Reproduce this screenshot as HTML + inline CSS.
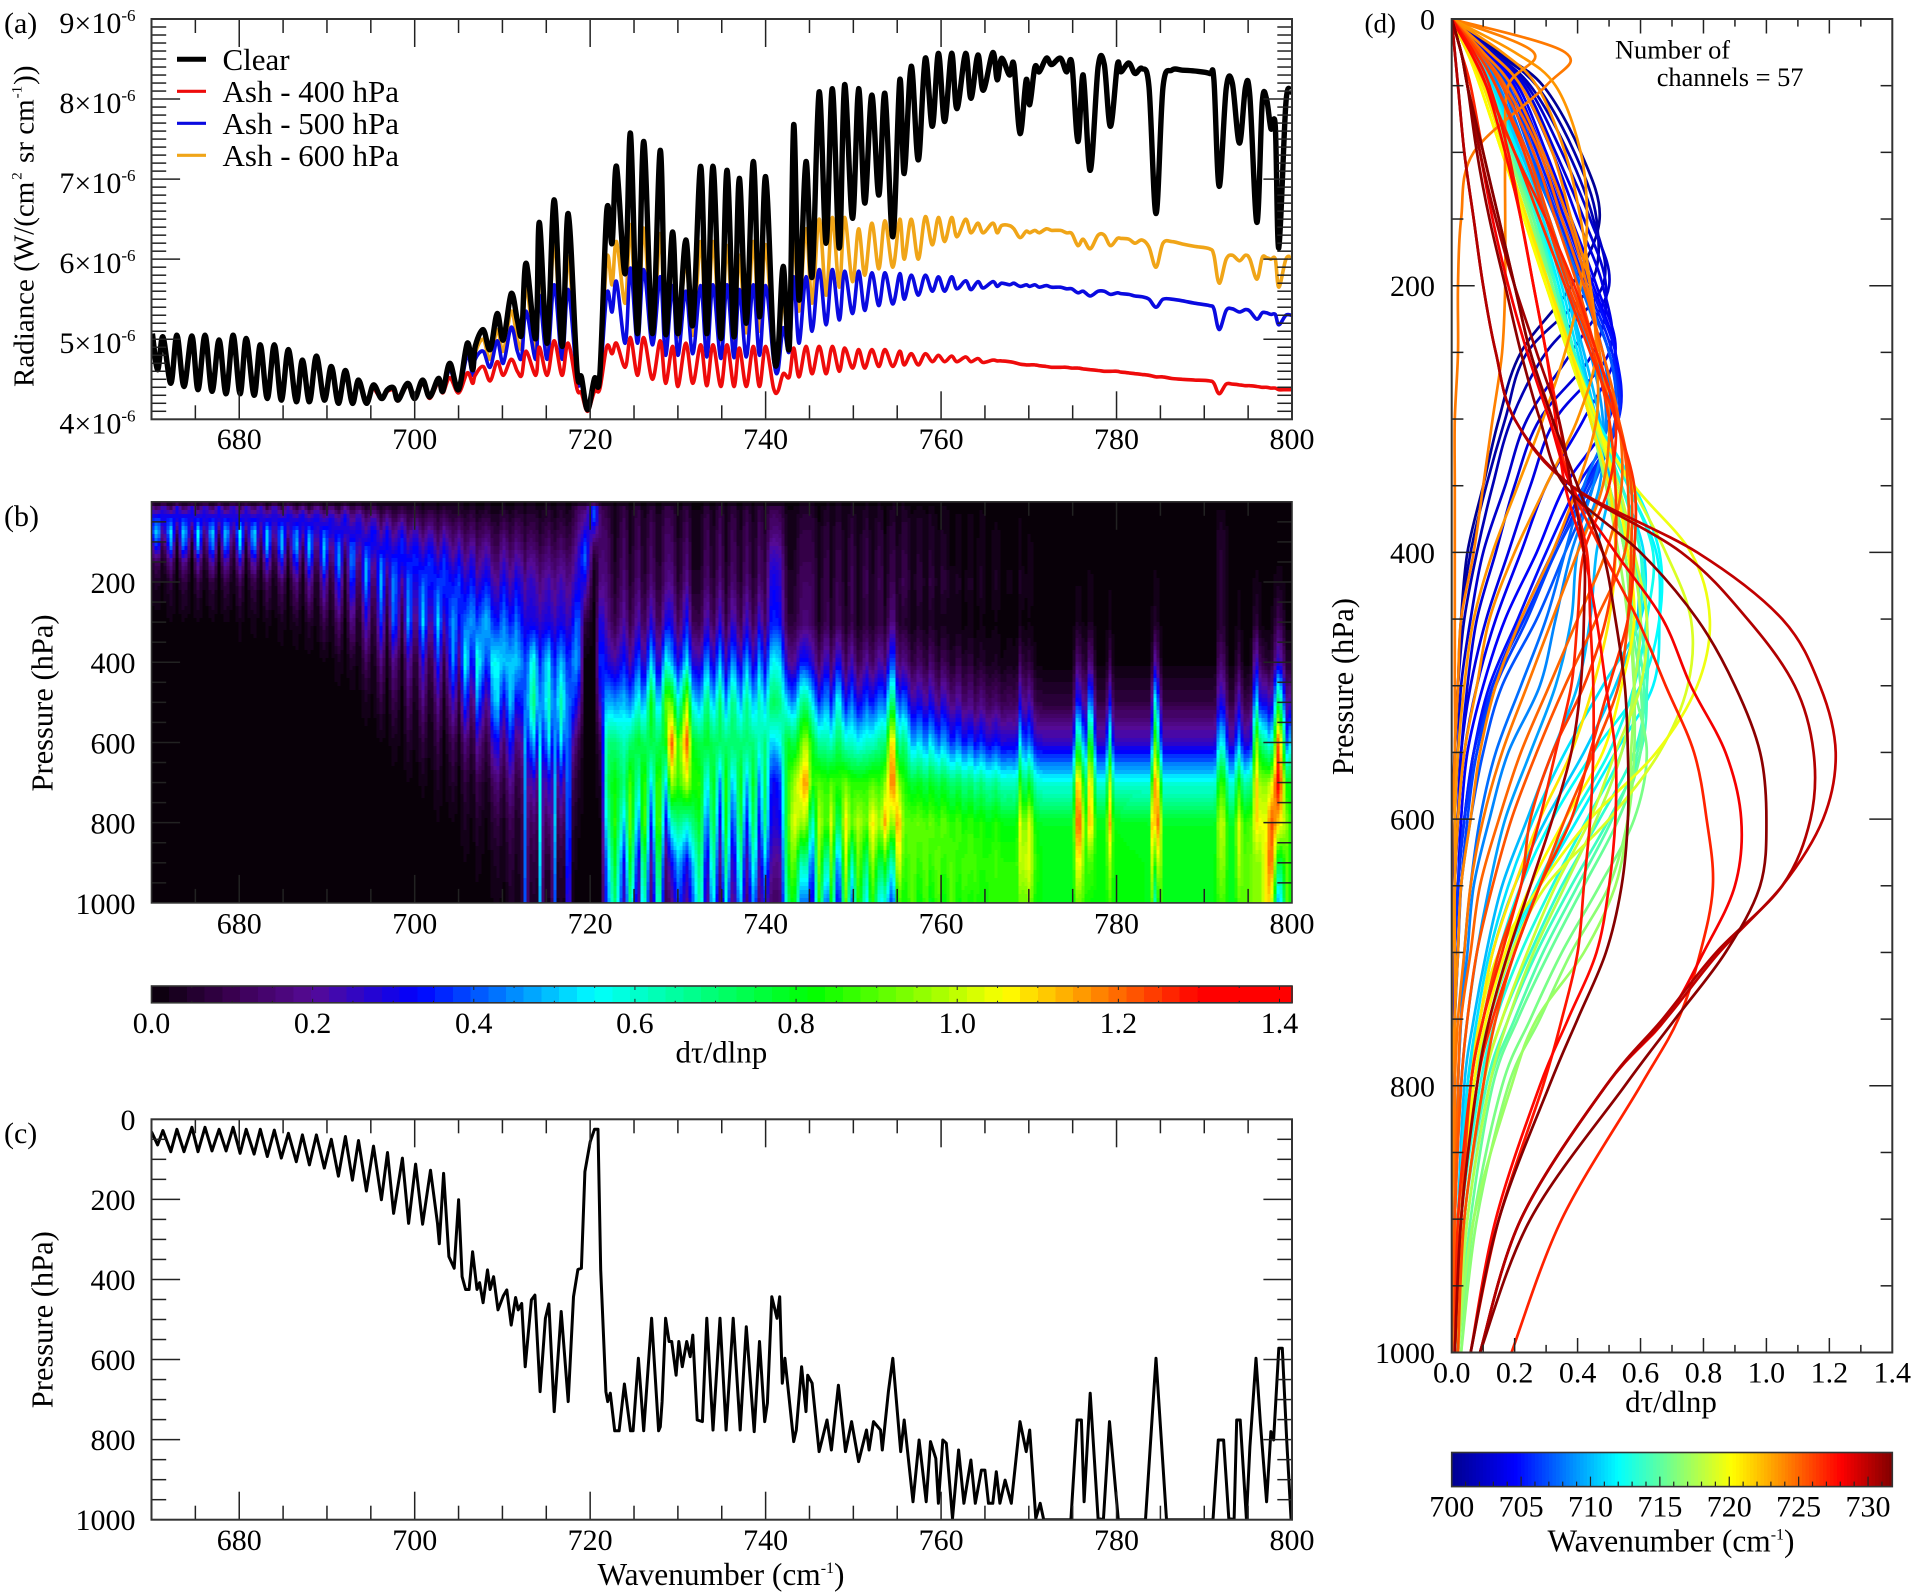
<!DOCTYPE html>
<html><head><meta charset="utf-8"><title>Radiance and weighting functions</title>
<style>html,body{margin:0;padding:0;background:#fff}svg{display:block}text{font-family:"Liberation Serif",serif;fill:#000}</style>
</head><body>
<svg id="fig" xmlns="http://www.w3.org/2000/svg" width="1912" height="1596" viewBox="0 0 1912 1596">
<defs>
<clipPath id="clipA"><rect x="151.5" y="19" width="1140.5" height="400.3"/></clipPath>
<clipPath id="clipC"><rect x="151.5" y="1119.3" width="1140.5" height="400.4"/></clipPath>
<clipPath id="clipD"><rect x="1451.7" y="19" width="440.6" height="1333.5"/></clipPath>
</defs>
<rect width="1912" height="1596" fill="#fff"/>
<g id="heat"></g>
<g id="cbarB"></g>
<g id="cbarD"></g>
<g id="linesA" clip-path="url(#clipA)"></g>
<g id="linesC" clip-path="url(#clipC)"></g>
<g id="linesD" clip-path="url(#clipD)"></g>
<g id="axes"></g>
<g id="labels" font-size="30"></g>

<g>
<line x1="177" x2="206" y1="59.3" y2="59.3" stroke="#000" stroke-width="5"/>
<line x1="177" x2="206" y1="91.3" y2="91.3" stroke="#ee0b0b" stroke-width="3.2"/>
<line x1="177" x2="206" y1="123.3" y2="123.3" stroke="#0a0ae0" stroke-width="3.2"/>
<line x1="177" x2="206" y1="155.3" y2="155.3" stroke="#f0a518" stroke-width="3.2"/>
<text x="222.5" y="70" font-size="31">Clear</text>
<text x="222.5" y="102" font-size="31">Ash - 400 hPa</text>
<text x="222.5" y="134" font-size="31">Ash - 500 hPa</text>
<text x="222.5" y="166" font-size="31">Ash - 600 hPa</text>
</g>

<text x="4" y="33" font-size="30">(a)</text>
<text x="4" y="526" font-size="30">(b)</text>
<text x="4" y="1143" font-size="30">(c)</text>
<text x="1364.5" y="32.5" font-size="27">(d)</text>

<text transform="translate(33.7,387) rotate(-90)" font-size="29">Radiance (W/(cm<tspan dx="2" dy="-12" font-size="15">2</tspan><tspan dx="2" dy="12"> sr cm</tspan><tspan dx="1" dy="-12" font-size="15">-1</tspan><tspan dx="1" dy="12">))</tspan></text>
<text transform="translate(52.6,703) rotate(-90)" text-anchor="middle" font-size="30.5">Pressure (hPa)</text>
<text transform="translate(52.6,1319.7) rotate(-90)" text-anchor="middle" font-size="30.5">Pressure (hPa)</text>
<text transform="translate(1353,686.6) rotate(-90)" text-anchor="middle" font-size="30.5">Pressure (hPa)</text>

<text x="721.4" y="1062.5" text-anchor="middle" font-size="31">dτ/dlnp</text>
<text x="721" y="1585" text-anchor="middle" font-size="31.4">Wavenumber (cm<tspan dy="-12" font-size="16">-1</tspan><tspan dy="12">)</tspan></text>
<text x="1671" y="1412" text-anchor="middle" font-size="31">dτ/dlnp</text>
<text x="1671" y="1551.4" text-anchor="middle" font-size="31.4">Wavenumber (cm<tspan dy="-12" font-size="16">-1</tspan><tspan dy="12">)</tspan></text>
<text x="1615" y="58.5" font-size="26.4">Number of</text>
<text x="1656.7" y="86" font-size="26.4">channels = 57</text>
</svg>
<script>
// ---------- Panel (a) data ----------
const spectrumWn=[670.1,670.7,671.3,672.2,672.9,673.7,674.6,675.3,676.1,676.9,677.7,678.5,679.3,680.1,680.8,681.7,682.4,683.2,684,684.8,685.6,686.5,687.2,688,688.8,689.7,690.5,691.3,692.1,692.9,693.6,694.5,695.3,696.2,696.9,697.6,698.1,699.2,700,700.9,701.7,702.7,703.2,704,705,706,706.6,706.9,707.8,708.6,709.4,710.1,711,711.7,712.2,712.7,713.8,714.2,715.1,715.9,716.8,717.5,718.5,719,719.7,720.5,721.1,721.9,722.5,723,724,724.6,725.4,726.1,727.1,728,728.6,729.4,730,730.9,731.7,732.6,733.3,734,734.9,735.6,736.4,737,737.8,738.6,739.3,740,740.9,741.4,742,742.7,743.2,743.8,744.6,745.3,746.1,746.9,747.6,748.4,749,749.9,750.6,751.3,752.1,752.9,753.6,754.5,755.3,755.8,756.6,757.4,758.2,759,759.7,760.4,761.2,761.8,762.8,763.4,764.2,764.8,765.9,766.4,766.9,767.8,768.3,769,769.7,770.1,770.7,771.2,772,772.6,773.6,774.3,774.9,775.6,776.2,777,777.9,778.6,779.3,780.1,780.5,781.4,782.1,782.9,783.7,784.5,785.3,786.3,787.5,788.9,790.6,791.1,791.7,792.5,793.2,794,794.7,795.2,796,796.6,797.1,797.6,798.1,798.5,799.3,799.9];
const clearRadiance=[5.07,4.62,5.03,4.45,5.05,4.41,5.04,4.37,5.05,4.35,4.99,4.32,5.05,4.32,5.01,4.3,4.93,4.26,4.93,4.24,4.87,4.22,4.74,4.22,4.79,4.24,4.66,4.2,4.61,4.2,4.49,4.2,4.43,4.26,4.37,4.39,4.24,4.45,4.26,4.49,4.28,4.51,4.35,4.7,4.37,4.95,4.62,4.91,5.12,4.87,5.32,4.99,5.57,5.24,5.07,5.95,5.01,6.46,4.95,6.74,4.91,6.57,4.62,4.53,4.12,4.51,4.55,6.61,6.2,7.16,5.82,7.57,5.07,7.47,5.07,7.36,5.07,6.34,5.07,6.24,5.18,7.16,5.07,7.16,5.01,7.11,5.03,7.01,5.2,7.22,5.28,7.03,4.91,4.82,5.91,4.91,7.68,5.49,7.22,5.78,8.09,6.2,8.13,6.14,8.18,6.51,8.13,6.7,8.05,6.8,8.07,6.28,8.24,7.07,8.41,7.24,8.51,7.66,8.57,7.72,8.57,7.88,8.57,8.01,8.55,8.11,8.58,8.24,8.51,8.3,8.43,7.57,8.24,7.93,8.4,8.34,8.51,8.43,8.51,8.34,8.45,7.47,8.3,7.11,8.4,8.43,7.66,8.43,8.34,8.45,8.32,8.38,8.15,6.57,8.15,8.36,8.36,8.35,8.32,8.24,6.91,8.13,8.2,7.45,8.15,8.03,6.46,7.95,8,7.63,7.66,6.14,7.95,8.09];
const ashWnStart=695.3;
const ash400Radiance=[4.4,4.26,4.35,4.36,4.23,4.42,4.25,4.45,4.26,4.46,4.33,4.52,4.33,4.58,4.45,4.55,4.66,4.48,4.72,4.55,4.75,4.6,4.55,4.85,4.55,4.9,4.55,4.98,4.55,4.95,4.38,4.33,4.1,4.35,4.38,4.91,4.82,4.95,4.65,5.02,4.55,5.02,4.5,4.98,4.45,4.91,4.41,4.95,4.45,4.93,4.42,4.93,4.41,4.93,4.41,4.89,4.41,4.91,4.41,4.91,4.39,4.35,4.57,4.53,4.89,4.53,4.91,4.57,4.91,4.57,4.91,4.6,4.89,4.64,4.87,4.64,4.87,4.66,4.87,4.66,4.85,4.68,4.82,4.68,4.82,4.72,4.8,4.72,4.79,4.72,4.78,4.72,4.76,4.71,4.74,4.73,4.73,4.72,4.71,4.69,4.68,4.68,4.68,4.67,4.66,4.65,4.65,4.65,4.64,4.64,4.63,4.62,4.61,4.6,4.6,4.6,4.59,4.58,4.57,4.56,4.55,4.53,4.53,4.51,4.5,4.49,4.48,4.45,4.32,4.44,4.44,4.43,4.42,4.42,4.41,4.4,4.4,4.39,4.39,4.37,4.37,4.37];
const ash500Radiance=[4.41,4.26,4.36,4.38,4.24,4.44,4.26,4.47,4.27,4.49,4.34,4.62,4.35,4.8,4.55,4.75,4.85,4.65,4.98,4.7,5.15,4.85,4.78,5.35,4.75,5.55,4.75,5.68,4.75,5.62,4.5,4.45,4.11,4.45,4.48,5.57,5.34,5.72,4.95,5.89,4.95,5.87,4.93,5.78,4.8,5.67,4.8,5.6,4.82,5.67,4.78,5.68,4.76,5.68,4.77,5.62,4.78,5.68,4.8,5.67,4.75,4.6,5.14,4.85,5.78,4.95,5.78,5.1,5.87,5.18,5.87,5.24,5.85,5.32,5.85,5.36,5.83,5.42,5.83,5.44,5.82,5.5,5.8,5.55,5.8,5.6,5.78,5.6,5.78,5.63,5.73,5.62,5.72,5.64,5.72,5.66,5.7,5.68,5.7,5.66,5.68,5.66,5.68,5.65,5.67,5.65,5.65,5.63,5.63,5.58,5.6,5.54,5.6,5.6,5.56,5.58,5.57,5.56,5.54,5.53,5.5,5.4,5.5,5.5,5.48,5.45,5.42,5.38,5.12,5.36,5.38,5.34,5.37,5.35,5.25,5.33,5.33,5.31,5.31,5.18,5.3,5.3];
const ash600Radiance=[4.42,4.26,4.36,4.38,4.24,4.45,4.26,4.48,4.27,4.5,4.34,4.66,4.36,4.88,4.6,4.83,5,4.75,5.12,4.85,5.35,5,4.92,5.65,4.88,6,4.88,6.22,4.85,6.03,4.55,4.5,4.12,4.48,4.52,6.01,5.68,6.22,5.45,6.43,5.03,6.39,5.01,6.32,5.03,6.05,5.03,5.97,5.05,6.22,5,6.22,4.98,6.17,4.98,6.05,5.08,6.22,5.1,6.18,4.85,4.75,5.5,5.2,6.36,5.35,6.38,5.45,6.5,5.55,6.52,5.65,6.52,5.72,6.38,5.8,6.45,5.88,6.48,5.9,6.5,6,6.5,6,6.53,6.18,6.52,6.22,6.52,6.28,6.5,6.33,6.45,6.33,6.45,6.33,6.42,6.42,6.38,6.27,6.35,6.33,6.36,6.33,6.38,6.36,6.36,6.33,6.32,6.17,6.25,6.13,6.3,6.3,6.17,6.26,6.26,6.25,6.2,6.24,6.15,5.9,6.2,6.22,6.19,6.16,6.13,6.05,5.7,6,6.05,5.98,6.05,6,5.75,6.02,6.02,6,6,5.65,6,6.03];
const radianceTicks=[4,5,6,7,8,9];

// ---------- Panel (c) data ----------
const peakWn=[670,670.7,671.3,672.2,672.9,673.7,674.6,675.3,676.1,676.9,677.7,678.5,679.3,680.1,680.8,681.7,682.4,683.2,684,684.8,685.6,686.5,687.2,688,688.8,689.7,690.5,691.3,692.1,692.9,693.6,694.5,695.3,696.2,696.9,697.6,698.6,699.3,700.1,700.9,701.8,702.6,702.8,703.3,703.9,704.5,705,705.4,705.8,706.2,706.6,707.1,707.4,707.8,708.3,708.6,709,709.5,710.1,710.5,711,711.5,711.8,712.2,712.6,713.3,713.7,714.3,714.9,715.3,715.9,716.7,717.5,718.1,718.6,719,719.4,720,720.5,720.9,721.2,721.8,722,722.3,722.8,723.3,723.9,724.6,724.9,725.5,726.1,727,727.8,728,728.2,728.6,729,729.3,729.8,730.1,730.5,731,731.4,731.7,732.2,732.8,733.3,734,734.8,735.5,736.3,737.1,737.8,738.7,739.3,739.9,740.2,740.7,741.3,741.6,741.9,742.2,743.2,743.5,744.1,744.6,744.8,745.3,746.1,747,747.5,748.3,749.1,749.8,750.6,751.5,751.8,752.3,753.1,753.3,754,754.5,755.4,755.8,756.8,757.5,758.3,758.8,759.4,759.7,760.2,760.6,761.3,762,762.6,763.4,763.9,764.6,765,765.4,765.9,766.3,766.7,767.3,768,769,769.7,770.1,770.8,771.3,771.7,774.8,775.5,776,776.3,777,777.9,778.5,779.2,780.2,783.3,784.5,785.7,791,791.6,792.2,792.8,793.4,793.7,794.1,794.8,795.2,795.9,796.4,797.1,797.6,797.9,798.5,798.9,799.4,799.9];
const peakPressure=[31,64,28,81,25,81,20,81,20,79,25,79,20,85,25,87,25,93,27,97,35,106,39,114,39,122,50,142,43,152,53,179,67,201,83,235,97,260,112,262,127,260,311,135,343,372,201,393,425,425,331,425,408,458,376,425,393,476,441,426,514,445,476,460,618,451,439,680,497,461,730,480,705,443,375,372,131,56,25,25,376,680,705,684,778,778,661,778,778,597,778,497,778,768,705,497,555,555,639,555,618,555,593,539,751,755,497,776,497,776,497,776,518,780,555,755,709,443,497,443,659,597,805,776,618,730,639,659,830,751,826,664,830,755,855,776,826,755,776,826,680,597,830,751,955,801,955,805,847,959,801,809,997,826,959,851,959,876,876,959,959,880,959,901,959,755,830,776,997,959,1000,1000,751,751,955,684,997,1000,755,1000,1000,597,1000,1000,801,801,997,1000,751,751,997,818,597,759,955,780,801,572,572,801,1000];

// ---------- Panel (b) data: first item of each column is wavenumber; the rest are dτ/dlnp ×100 at heatPressure ----------
const heatPressure=[15,40,75,110,150,200,300,400,500,600,700,800,900,1000];
const heatColumns=[
[670,20,32,35,20,6,2],[670.7,12,38,55,40,14,5],[671.3,28,32,15,4,1],[672.2,10,35,55,46,20,7,1],[672.9,30,30,12,3],[673.7,10,35,56,48,22,9,1],[674.6,30,30,12,3],[675.3,10,33,56,50,24,9,1],[676.1,30,30,12,3,1],[676.9,10,33,56,50,26,9,1],[677.7,30,30,12,3,1],[678.5,10,33,56,50,26,10,1],[679.3,30,30,12,3,1],[680.1,10,30,56,52,28,11,2],[680.8,28,30,14,4,1],[681.7,10,30,56,52,28,11,2],[682.4,28,30,14,4,1],[683.2,8,28,52,54,32,13,2],[684,28,30,15,5,1],[684.8,8,28,50,54,36,15,3],[685.6,25,32,18,7,2],[686.5,8,25,46,54,40,19,4],[687.2,22,34,22,9,2],[688,6,22,44,54,44,24,6],[688.8,22,34,22,10,3],[689.7,6,20,40,52,48,28,10,1],
[690.5,18,32,28,14,5,1],[691.3,5,18,32,46,52,38,15,3],[692.1,20,34,28,14,5,2],[692.9,5,15,28,44,52,42,20,5],[693.6,16,30,32,20,8,3],[694.5,4,12,22,36,50,50,28,12,3],[695.3,12,25,36,30,16,6,1],[696.2,4,10,18,28,44,52,38,18,8,1],[696.9,10,20,34,34,24,12,3],[697.6,3,8,15,24,38,48,46,20,10,3],[698.6,8,18,32,37,32,18,6,1],[699.3,3,8,14,22,34,44,52,25,14,6,1],[700.1,8,15,28,36,36,26,9,2],[700.9,3,7,12,20,30,42,55,30,18,8,2],[701.8,6,13,24,33,38,33,15,4,1],[702.7,3,6,10,16,25,38,55,38,20,10,4,1],[703.3,6,12,22,30,38,38,22,7,2],[704.5,3,6,10,14,22,32,50,50,28,12,6,1],[705,5,10,18,26,34,40,32,14,5,1],[705.8,2,5,8,12,18,26,42,62,40,18,8,4,1],[706.6,5,10,16,24,32,38,48,24,8,3,1],[707.1,2,5,8,12,16,24,38,60,45,22,10,5,2],[708.3,4,9,15,22,28,36,52,34,14,5,2],[708.9,2,4,8,10,15,22,36,58,48,28,12,6,3,1],[709.5,2,4,7,10,14,20,34,55,52,32,16,8,4,2],[710.1,4,9,14,20,26,34,46,50,26,12,5,2,1],[711,2,4,6,10,14,20,32,50,55,38,22,12,8,5],[711.5,4,8,13,18,24,32,44,52,32,16,8,4,3,2],[712.2,4,7,10,14,20,26,34,45,35,20,10,6,4,3],
[712.6,2,4,6,8,12,18,28,38,42,50,48,46,44,42],[713,4,7,10,14,20,26,30,45,50,30,14,8,5,4],[713.5,4,7,10,14,20,26,30,62,75,55,28,15,8,5],[714,3,5,8,10,15,20,28,45,48,30,16,10,6,4],[714.3,1,3,5,8,12,16,25,35,45,55,60,58,55,50],[714.7,3,5,8,10,15,20,28,45,48,30,16,10,6,4],[715.3,5,7,10,14,18,24,30,55,62,55,30,15,6,3],[715.6,3,5,8,10,15,20,28,42,48,32,16,10,5,3],[715.9,1,3,5,8,12,16,22,32,42,52,62,68,62,55],[716.2,3,5,8,10,15,20,28,42,48,32,16,10,5,3],[716.7,5,7,10,14,18,24,30,50,65,55,30,15,7,3],[717.2,3,5,8,10,15,20,28,42,48,32,16,10,5,3],[717.5,1,3,5,8,12,16,22,32,42,52,62,65,60,50],[717.9,4,6,9,12,16,22,30,42,40,25,12,7,4,2],[718.6,12,14,18,22,26,30,45,50,30,10,5,2],[719.4,14,20,30,40,42,30,8],[720.5,40,40,25,10,2],[721.2,10,12,14,14,16,18,32,40,28,10,4,1],[721.9,8,10,12,14,14,16,20,30,50,70,72,60,45,40],
[722.8,1,2,2,2,3,4,8,22,45,70,82,86,80,72],[723.9,8,10,12,13,14,16,22,35,50,62,68,50,30,22],[724.6,1,2,2,2,3,4,8,20,42,70,90,95,85,70],[725.5,8,10,12,13,14,16,25,42,60,78,60,40,22,15],[726.1,1,2,2,2,3,4,8,20,42,72,92,100,85,72],[727,8,10,12,13,14,16,30,55,85,75,50,30,15,10],[727.8,1,2,2,2,3,4,8,20,42,72,95,102,88,75],[728.6,8,10,12,13,14,16,30,58,90,80,50,28,14,10],[729.2,8,10,12,14,16,20,32,50,95,128,100,60,30,15],[730.1,1,2,2,3,3,4,10,28,55,85,85,70,50,40],[731,8,10,12,14,16,20,35,55,100,125,102,60,30,18],[731.7,1,2,2,3,3,4,10,28,55,80,85,70,50,40],[732.6,1,2,2,2,3,4,8,24,45,72,85,80,75,70],[733.3,8,10,12,13,14,16,28,50,75,80,50,35,20,12],[734,1,2,2,2,3,4,8,24,45,72,85,82,72,60],[734.8,8,10,12,13,14,16,28,50,72,72,45,30,18,12],[735.5,1,2,2,2,3,4,8,24,45,70,85,82,70,55],[736.3,8,10,12,13,14,16,28,50,72,72,45,30,18,12],[737.1,1,2,2,2,3,4,8,24,45,70,85,82,70,55],[737.8,8,10,12,13,14,16,28,50,70,70,45,30,18,12],[738.7,1,2,2,2,3,4,8,24,45,70,85,80,65,50],[739.3,8,10,12,13,14,16,30,50,65,60,40,30,20,12],[739.9,3,4,5,6,7,8,12,28,48,70,75,70,50,35],[740.7,10,13,16,22,28,32,36,56,75,50,30,28,20,12],[741.6,9,12,15,20,25,28,34,54,70,55,35,30,18,12],[742.5,1,2,2,2,3,4,6,22,50,80,85,85,80,70],[743.2,1,2,2,2,3,4,6,18,42,72,95,105,95,85],[744.1,4,6,8,9,10,12,14,36,68,90,110,95,60,40],[744.6,4,6,8,9,10,12,16,34,70,100,120,100,70,45],[745.3,4,6,8,9,10,12,12,28,55,80,85,55,35,22],
[746.1,1,1,1,2,2,2,3,12,35,65,90,100,95,85],[747,4,6,8,9,10,12,12,30,50,65,85,85,55,30],[747.5,1,1,1,2,2,2,3,12,32,60,90,105,95,85],[748.3,4,6,8,9,10,12,12,35,62,75,85,65,35,20],[749.1,1,1,1,2,2,2,3,10,30,60,92,110,105,95],[749.8,4,6,8,9,10,12,10,25,45,60,85,90,60,40],[750.6,1,1,1,2,2,2,2,8,28,55,85,100,95,88],[751.5,4,6,8,9,10,12,8,22,42,60,85,90,65,50],[752.1,1,1,1,2,2,2,3,10,32,60,90,110,100,90],[753.1,4,6,8,9,10,12,10,25,45,68,85,95,70,50],[753.6,1,1,1,2,2,2,4,15,40,68,95,115,85,60],[754.5,4,6,8,9,10,12,20,45,80,120,125,90,55,30],[755.1,1,1,1,2,2,3,4,12,35,62,95,120,110,90],[755.8,4,6,8,9,10,12,6,20,45,72,85,90,85,80],[756.8,0,1,1,1,1,1,1,6,22,45,75,90,92,92],[757.5,3,4,5,6,7,9,5,15,32,55,80,92,85,78],[758.3,0,1,1,1,1,1,1,5,20,42,72,88,92,90],[758.8,3,4,5,6,7,9,5,15,32,55,80,92,85,78],[759.7,0,0,1,1,1,1,1,4,16,40,72,86,92,90],[760.2,2,3,4,5,6,8,3,12,30,50,78,92,85,78],[761.3,0,0,0,0,0,1,1,3,14,35,68,84,90,92],[762,1,2,2,3,3,5,2,10,25,45,75,90,85,80],[762.6,0,0,0,0,0,0,0,3,12,32,66,82,88,88],[763.4,1,2,2,3,3,5,2,8,20,42,72,88,88,82],[763.9,0,0,0,0,0,0,0,2,11,30,64,82,88,86],[764.6,1,2,2,3,3,5,1,6,18,38,70,85,85,82],[765.4,0,0,0,0,0,0,0,2,10,28,62,80,85,85],[766.3,1,1,2,2,3,4,1,4,15,35,68,85,88,85],[767,0,0,0,0,0,0,0,1,9,28,60,80,85,85],[767.8,0,1,1,1,1,2,0,3,12,30,62,80,85,85],[768.6,0,0,0,0,0,0,0,1,10,28,60,80,85,85],[769,1,1,2,2,3,4,2,12,30,55,85,105,100,92],[769.5,0,0,0,0,0,1,0,4,15,35,65,90,100,90],[770.1,1,1,1,2,2,3,1,8,25,45,80,105,105,95],[770.8,0,0,0,0,0,0,0,1,8,28,60,80,85,82],[771.7,0,0,0,0,0,0,0,0,7,26,58,78,80,80],[775,0,0,0,0,0,0,0,0,7,26,58,78,80,80],[775.5,0,0,0,0,1,1,3,15,35,70,110,120,105,92],[776,0,0,0,0,0,1,2,10,30,65,105,120,105,90],[776.4,0,0,0,0,0,0,0,2,10,28,60,80,85,85],[777,0,0,0,0,1,2,4,20,55,95,120,120,90,82],[777.7,0,0,0,0,0,0,0,0,8,26,58,80,82,82],[778.8,0,0,0,0,0,0,0,0,8,26,58,80,82,82],[779.2,0,0,0,0,1,1,2,12,35,70,105,118,100,88],[779.7,0,0,0,0,0,0,0,0,8,26,58,80,82,82],[783.7,0,0,0,0,0,0,0,0,8,26,58,78,80,80],[784.2,0,0,0,0,0,1,2,8,30,55,100,125,110,95],[784.5,0,0,0,0,1,2,6,30,75,110,125,100,70,40],[784.8,0,0,0,0,0,1,2,8,30,55,100,125,110,95],[785.3,0,0,0,0,0,0,0,0,8,26,58,78,80,80],[791.2,0,0,0,0,0,0,0,0,8,26,58,78,80,80],[791.7,1,3,5,6,7,7,6,15,30,55,85,100,95,88],[792.2,1,2,4,4,5,5,5,12,28,55,85,100,95,88],[792.8,0,0,0,0,0,0,0,0,8,26,58,78,80,80],[793.4,0,0,0,0,0,0,0,0,8,26,58,78,80,80],[793.9,0,0,0,0,0,1,2,10,28,50,85,105,100,90],[794.5,0,0,0,0,0,0,0,0,8,26,62,85,90,90],[795.3,0,0,0,0,0,0,0,1,10,30,66,88,92,92],[795.9,0,0,0,0,1,2,8,30,60,100,115,110,95,95],[796.4,0,0,0,0,0,1,1,10,30,70,95,105,95,95],[797.1,0,0,0,0,0,0,0,6,30,62,95,105,110,108],[797.6,0,0,0,0,0,0,0,4,20,50,100,125,125,110],[798.5,0,0,0,0,1,3,12,30,80,130,135,110,70,40],[799.4,0,0,0,0,0,0,0,5,20,40,80,95,90,90],[800,0,0,0,0,0,0,0,5,25,58,80,80,80,80]];
const heatStopValues=[0,0.1,0.2,0.33,0.44,0.55,0.82,1.06,1.3,1.42];
const heatStopColors=["#080008","#3a0050","#560a96","#0000ff","#0080ff","#00ffff","#00ff00","#ffff00","#ff0000","#ff0000"];
const heatScaleLabels=["0.0","0.2","0.4","0.6","0.8","1.0","1.2","1.4"];
const heatScaleTicks=[0,0.2,0.4,0.6,0.8,1.0,1.2,1.4];

// ---------- Panel (d) data: first item wavenumber; rest dτ/dlnp ×100 at profileLevels ----------
const profileLevels=[0,25,50,100,150,200,250,300,350,400,450,500,550,600,650,700,750,800,900,1000];
const profileCurves=[
[700.2,0,15,29,41,47,38,22,15,10,5,3,2,1,0,0,0,0,0,0,0],[700.9,0,14,27,39,46,44,24,17,11,6,3,2,1,1,0,0,0,0,0,0],[701.5,0,13,25,37,45,48,30,19,13,8,4,2,1,1,0,0,0,0,0,0],[702.5,0,13,24,35,44,50,38,24,17,10,6,3,2,1,1,0,0,0,0,0],[703,0,12,23,33,42,49,45,28,20,14,8,5,3,2,1,1,0,0,0,0],[703.5,0,12,22,32,40,48,50,33,25,18,11,6,3,2,1,1,0,0,0,0],[704,0,11,21,30,38,46,52,42,30,22,14,8,4,2,1,1,0,0,0,0],[704.5,0,11,20,29,37,45,52,50,36,27,17,10,5,3,2,1,0,0,0,0],[705,0,10,19,28,36,44,52,53,40,30,21,12,7,4,2,1,1,0,0,0],[705.5,0,10,19,27,35,43,51,53,42,32,22,13,7,4,2,1,1,0,0,0],[706,0,10,18,26,34,42,50,53,43,33,23,13,8,4,2,1,1,0,0,0],[706.5,0,9,18,26,33,41,50,52,44,33,24,14,8,5,3,2,1,0,0,0],[707,0,9,17,25,33,41,50,52,45,36,27,16,10,6,3,2,1,1,0,0],[707.8,0,9,16,24,33,41,48,50,42,36,30,22,14,9,6,4,3,2,1,0],[708.5,0,8,15,23,31,38,46,49,45,38,33,28,18,12,7,5,3,2,1,0],[709.2,0,8,14,22,31,37,44,48,47,40,38,33,25,17,12,8,5,3,1,0],[710,0,8,14,22,30,36,42,47,50,46,44,40,32,24,16,11,7,4,2,1],[710.5,0,7,13,22,30,36,41,46,52,58,59,52,42,30,20,13,9,5,2,1],[711.2,0,7,13,21,29,35,40,46,54,61,60,48,36,26,18,12,8,5,2,1],[711.7,0,7,12,21,28,34,39,46,56,65,66,64,52,40,28,19,12,7,3,1],[712,0,7,12,20,28,33,38,46,58,66,66,60,45,32,22,15,10,6,2,1],[712.5,0,7,12,20,27,33,39,46,56,64,62,58,50,38,27,18,12,7,3,1],[713,0,6,12,20,27,33,39,46,54,60,60,58,54,43,32,22,14,9,3,1],[713.5,0,6,11,19,27,33,39,46,54,60,62,62,58,47,35,25,16,10,4,1],[714,0,6,11,19,26,33,39,46,52,58,60,62,60,50,38,27,18,11,4,2],[714.7,0,6,11,19,26,32,38,45,50,56,58,61,59,51,40,29,20,12,5,2],[715.3,0,6,11,18,26,32,38,44,50,55,57,60,60,53,42,31,21,13,6,2],[715.9,0,5,10,18,25,32,38,44,50,55,57,58,62,58,47,35,25,16,7,3],[716.5,0,5,10,18,25,31,38,44,50,55,57,58,58,56,50,38,28,18,8,3],[717,0,5,10,17,24,31,38,44,49,53,56,58,57,56,52,42,27,19,7,2],[717.7,0,5,10,17,24,31,38,45,52,57,60,58,54,46,36,26,18,12,5,2],[718.5,0,5,10,17,24,30,38,45,53,58,62,60,52,44,33,24,16,10,4,1],[719,0,5,9,16,23,30,37,45,57,68,76,75,66,50,30,19,12,8,3,1],[719.7,0,5,9,16,23,30,37,45,58,76,82,78,65,44,28,15,9,6,2,1],[720.3,0,5,9,16,23,30,38,46,52,56,58,54,48,36,25,17,11,7,3,1],[721,0,5,10,17,24,31,38,44,50,52,50,45,38,28,20,13,9,6,2,1],[724.4,0,36,30,7,3,2,2,1,1,1,1,1,1,0,0,0,0,0,0,0],[724.2,0,26,18,17,17,17,16,13,10,7,3,2,1,1,1,0,0,0,0,0],[723.5,0,20,33,41,43,41,36,29,21,13,7,4,2,1,1,0,0,0,0,0],[723.7,0,16,27,36,41,44,46,40,30,20,12,8,4,2,1,1,1,0,0,0],[724,0,12,22,32,38,44,46,46,40,32,22,14,9,6,3,2,1,1,0,0],[724.5,0,10,19,29,37,43,47,50,48,40,32,24,16,10,6,4,2,1,1,0],[725,0,9,17,28,35,42,48,53,54,49,40,31,22,15,9,6,3,2,1,0],[725.5,0,9,16,26,33,40,46,53,56,55,46,36,27,19,13,8,5,3,1,0],[725.8,0,8,14,24,31,38,46,53,57,57,56,53,45,36,28,20,14,10,4,2],[726.2,0,8,14,23,30,37,45,50,52,52,49,42,32,25,22,15,10,6,3,1],[726.6,0,6,11,20,28,36,44,52,58,58,56,50,44,38,28,20,13,8,3,1],[726.9,0,6,11,20,30,39,46,52,50,42,40,38,33,28,22,16,10,6,2,1],[727,0,3,6,10,15,20,25,32,38,48,59,68,77,81,83,79,72,60,35,19],[727.4,0,7,12,18,22,26,30,34,38,43,44,45,45,44,42,40,35,29,15,6],[727.8,0,6,11,17,22,26,30,33,36,42,46,49,52,52,50,46,37,28,14,6],[728.3,0,3,5,9,13,18,24,31,38,52,67,76,87,92,90,80,68,49,22,9],[729.8,0,1,2,4,7,10,14,20,38,78,105,117,122,118,105,85,68,49,22,9],[730.3,0,1,2,4,7,10,14,20,38,73,94,109,115,114,105,84,67,49,22,9],[730.8,0,3,5,9,14,20,27,34,38,42,42,41,38,32,25,18,12,8,3,1],[731.4,0,3,5,8,12,17,22,28,36,60,78,90,98,100,98,87,71,55,25,9],[731.6,0,3,5,10,15,20,25,32,40,48,52,55,56,56,54,49,40,31,15,6]];
const jetStopWn=[700,704.6,712,720.2,724.2,728,731.75];
const jetStopColors=["#000090","#0000ff","#00ffff","#ffff00","#ff8000","#ff0000","#800000"];
const profileScaleTicks=[700,705,710,715,720,725,730];
const dtauTicks=["0.0","0.2","0.4","0.6","0.8","1.0","1.2","1.4"];
const pressureTicks=[200,400,600,800,1000];

// ---------- scales ----------
const NS="http://www.w3.org/2000/svg";
const X0=151.5,X1=1292;
const xWn=w=>X0+(w-670)*(X1-X0)/130;
const yRad=v=>419.3-(v-4)*(419.3-19)/5;
const yHeat=p=>501.8+p*(902.9-501.8)/1000;
const yC=p=>1119.3+p*(1519.7-1119.3)/1000;
const xD=v=>1451.7+v*(1892.3-1451.7)/1.4;
const yD=p=>19+p*(1352.5-19)/1000;
const xHeatScale=v=>151.5+v*(1279.5-151.5)/1.4;
const xJet=w=>1451.7+(w-700)*13.878;

function add(parent,tag,attrs,name){
  const el=document.createElementNS(NS,tag);
  for(const k in attrs)el.setAttribute(k,attrs[k]);
  
  
  parent.appendChild(el);
  return el;
}
function hex(c){return [1,3,5].map(i=>parseInt(c.substr(i,2),16));}
function ramp(vals,cols,v){
  if(v<=vals[0])return cols[0];
  for(let i=1;i<vals.length;i++){
    if(v<=vals[i]){
      const t=(v-vals[i-1])/(vals[i]-vals[i-1]),a=hex(cols[i-1]),b=hex(cols[i]);
      return "rgb("+a.map((q,k)=>Math.round(q+(b[k]-q)*t)).join(",")+")";
    }
  }
  return cols[cols.length-1];
}
function smoothD(pts){
  let d="M"+pts[0][0].toFixed(1)+" "+pts[0][1].toFixed(1);
  for(let i=0;i<pts.length-1;i++){
    const p0=pts[Math.max(i-1,0)],p1=pts[i],p2=pts[i+1],p3=pts[Math.min(i+2,pts.length-1)];
    d+=" C"+(p1[0]+(p2[0]-p0[0])/6).toFixed(1)+" "+(p1[1]+(p2[1]-p0[1])/6).toFixed(1)+" "+(p2[0]-(p3[0]-p1[0])/6).toFixed(1)+" "+(p2[1]-(p3[1]-p1[1])/6).toFixed(1)+" "+p2[0].toFixed(1)+" "+p2[1].toFixed(1);
  }
  return d;
}
function smoothLine(parent,xs,ys,sx,sy,color,width,name){
  const pts=xs.map((x,i)=>[sx(x),sy(ys[i])]);
  return add(parent,"path",{d:smoothD(pts),fill:"none",stroke:color,"stroke-width":width,"stroke-linejoin":"round"},name);
}
function polyline(parent,xs,ys,sx,sy,color,width,name){
  const pts=xs.map((x,i)=>sx(x).toFixed(1)+","+sy(ys[i]).toFixed(1)).join(" ");
  return add(parent,"polyline",{points:pts,fill:"none",stroke:color,"stroke-width":width,"stroke-linejoin":"round"},name);
}

// ---------- Panel (a) ----------
const gA=document.getElementById("linesA");
const ashWn=spectrumWn.slice(spectrumWn.indexOf(ashWnStart));
smoothLine(gA,ashWn,ash600Radiance,xWn,yRad,"#f0a518",3.6,"line-ash-600");
smoothLine(gA,ashWn,ash500Radiance,xWn,yRad,"#0a0ae0",3.6,"line-ash-500");
smoothLine(gA,ashWn,ash400Radiance,xWn,yRad,"#ee0b0b",3.6,"line-ash-400");
smoothLine(gA,spectrumWn,clearRadiance,xWn,yRad,"#000",5.4,"line-clear");

// ---------- Panel (c) ----------
polyline(document.getElementById("linesC"),peakWn,peakPressure,xWn,yC,"#000",3,"peak-pressure-line");

// ---------- Panel (b) heatmap ----------
function columnAt(c,p){
  let pa=0,va=0;
  for(let i=0;i<heatPressure.length;i++){
    const pb=heatPressure[i],vb=(c[i+1]||0);
    if(p<=pb)return va+(vb-va)*(p-pa)/(pb-pa);
    pa=pb;va=vb;
  }
  return va;
}
function heatValue(w,p){
  let j=0;
  while(j<heatColumns.length-2&&heatColumns[j+1][0]<w)j++;
  const a=heatColumns[j],b=heatColumns[j+1];
  const t=Math.max(0,Math.min(1,(w-a[0])/(b[0]-a[0])));
  return (columnAt(a,p)*(1-t)+columnAt(b,p)*t)/100;
}
const gH=document.getElementById("heat");
const cellW=3,cellH=4,LEVEL=0.022;
add(gH,"rect",{x:X0,y:501.8,width:X1-X0,height:401.1,fill:heatStopColors[0]},"heatmap-base");
for(let px=X0;px<X1;px+=cellW){
  const w=670+(px+cellW/2-X0)*130/(X1-X0);
  let runStart=501.8,runLevel=null;
  for(let py=501.8;py<=903;py+=cellH){
    const atEnd=py+cellH>903;
    const lv=atEnd?-1:Math.round(heatValue(w,(py+cellH/2-501.8)*1000/401.1)/LEVEL);
    if(runLevel===null)runLevel=lv;
    if(lv!==runLevel){
      if(runLevel>0){
        const bottom=Math.min(atEnd?902.9:py,902.9);
        add(gH,"rect",{x:px,y:runStart.toFixed(1),width:Math.min(cellW,X1-px),height:(bottom-runStart).toFixed(1),fill:ramp(heatStopValues,heatStopColors,runLevel*LEVEL),"shape-rendering":"crispEdges"},"heatmap-cell");
      }
      runStart=py;runLevel=lv;
    }
  }
}

// ---------- colourbars ----------
const gB=document.getElementById("cbarB");
for(let v=0;v<1.416;v+=0.022){
  add(gB,"rect",{x:xHeatScale(v).toFixed(1),y:986,width:(xHeatScale(Math.min(0.022,1.416-v))-151.5+0.6).toFixed(1),height:16.8,fill:ramp(heatStopValues,heatStopColors,v+0.011),"shape-rendering":"crispEdges"},"colorbar-b-swatch");
}
const gJ=document.getElementById("cbarD");
for(let w=700;w<731.75;w+=0.25){
  add(gJ,"rect",{x:xJet(w).toFixed(1),y:1452.5,width:4.1,height:34.1,fill:ramp(jetStopWn,jetStopColors,w+0.125),"shape-rendering":"crispEdges"},"colorbar-d-swatch");
}

// ---------- Panel (d) ----------
const gD=document.getElementById("linesD");
profileCurves.forEach(c=>{
  const pts=profileLevels.map((p,i)=>[xD((c[i+1]||0)/100),yD(p)]);
  add(gD,"path",{d:smoothD(pts),fill:"none",stroke:ramp(jetStopWn,jetStopColors,c[0]),"stroke-width":2.7},"profile-"+c[0]);
});

// ---------- axes ----------
const gAx=document.getElementById("axes");
function tick(x1,y1,x2,y2,w,name){add(gAx,"line",{x1:x1,y1:y1,x2:x2,y2:y2,stroke:"#222","stroke-width":w},name);}
function box(x0,y0,x1,y1,w,name){add(gAx,"rect",{x:x0,y:y0,width:x1-x0,height:y1-y0,fill:"none",stroke:"#333","stroke-width":w},name);}
function wnTicks(top,bottom,name){
  for(let w=675;w<800;w+=5){
    const major=(w%20===0),len=major?28:14,x=xWn(w);
    tick(x,bottom,x,bottom-len,1.5,name+"-x-tick");
    tick(x,top,x,top+len,1.5,name+"-x-tick-top");
  }
}
wnTicks(19,419.3,"panel-a");
for(let v=4.1;v<8.95;v+=0.1){
  const major=Math.abs(v-Math.round(v))<0.01,len=major?28.6:14.7,y=yRad(v);
  tick(X0,y,X0+len,y,1.5,"panel-a-y-tick");
  tick(X1,y,X1-len,y,1.5,"panel-a-y-tick-right");
}
box(X0,19,X1,419.3,2,"panel-a-frame");
wnTicks(501.8,902.9,"panel-b");
for(let p=50;p<1000;p+=50){
  const major=p%200===0,len=major?28.6:14.7,y=yHeat(p);
  tick(X0,y,X0+len,y,1.5,"panel-b-y-tick");
  tick(X1,y,X1-len,y,1.5,"panel-b-y-tick-right");
}
box(X0,501.8,X1,902.9,1.6,"panel-b-frame");
wnTicks(1119.3,1519.7,"panel-c");
for(let p=50;p<1000;p+=50){
  const major=p%200===0,len=major?28.6:14.7,y=yC(p);
  tick(X0,y,X0+len,y,1.5,"panel-c-y-tick");
  tick(X1,y,X1-len,y,1.5,"panel-c-y-tick-right");
}
box(X0,1119.3,X1,1519.7,2,"panel-c-frame");
for(let i=1;i<14;i++){
  const major=i%2===0,len=major?14.5:7.6,x=xD(i/10);
  tick(x,1352.5,x,1352.5-len,1.5,"panel-d-x-tick");
  tick(x,19,x,19+len,1.5,"panel-d-x-tick-top");
}
for(let p=50;p<1000;p+=50){
  const major=p%200===0,len=major?23:11.7,y=yD(p);
  tick(1451.7,y,1451.7+len,y,1.5,"panel-d-y-tick");
  tick(1892.3,y,1892.3-len,y,1.5,"panel-d-y-tick-right");
}
box(1451.7,19,1892.3,1352.5,2,"panel-d-frame");
for(let v=0.05;v<1.42;v+=0.05){
  const major=Math.round(v*20)%4===0,len=major?4:2,x=xHeatScale(v);
  tick(x,986,x,986+len,1,"colorbar-b-tick");
  tick(x,1002.8,x,1002.8-len,1,"colorbar-b-tick");
}
box(151.5,986,1292,1002.8,1.6,"colorbar-b-frame");
for(let w=701;w<=731;w+=1){
  const major=w%5===0,len=major?10:5,x=xJet(w);
  tick(x,1486.6,x,1486.6-len,1.2,"colorbar-d-tick");
}
box(1451.7,1452.5,1892.3,1486.6,1.6,"colorbar-d-frame");

// ---------- tick labels ----------
const gL=document.getElementById("labels");
function label(x,y,txt,anchor,name){
  const t=add(gL,"text",{x:x,y:y,"text-anchor":anchor},name);
  t.textContent=txt;
  return t;
}
const wnLabels=[680,700,720,740,760,780,800];
wnLabels.forEach(w=>{
  label(xWn(w),449,w,"middle","panel-a-x-label");
  label(xWn(w),933.5,w,"middle","panel-b-x-label");
  label(xWn(w),1550,w,"middle","panel-c-x-label");
});
radianceTicks.forEach(v=>{
  const t=label(135.5,yRad(v)+14,v+"×10","end","panel-a-y-label");
  const s=add(t,"tspan",{dy:-12,"font-size":17},"exponent");
  s.textContent="-6";
});
pressureTicks.forEach(p=>{
  label(135.5,yHeat(p)+11,p,"end","panel-b-y-label");
  label(135.5,yC(p)+10.5,p,"end","panel-c-y-label");
  label(1435,yD(p)+10.5,p,"end","panel-d-y-label");
});
label(135.5,1130,"0","end","panel-c-y-label");
label(1435,29.5,"0","end","panel-d-y-label");
heatScaleLabels.forEach((s,i)=>{label(xHeatScale(heatScaleTicks[i]),1033,s,"middle","colorbar-b-label");});
dtauTicks.forEach(s=>{label(xD(parseFloat(s)),1382.5,s,"middle","panel-d-x-label");});
profileScaleTicks.forEach(w=>{label(xJet(w),1516.6,w,"middle","colorbar-d-label");});
</script>
</body></html>
